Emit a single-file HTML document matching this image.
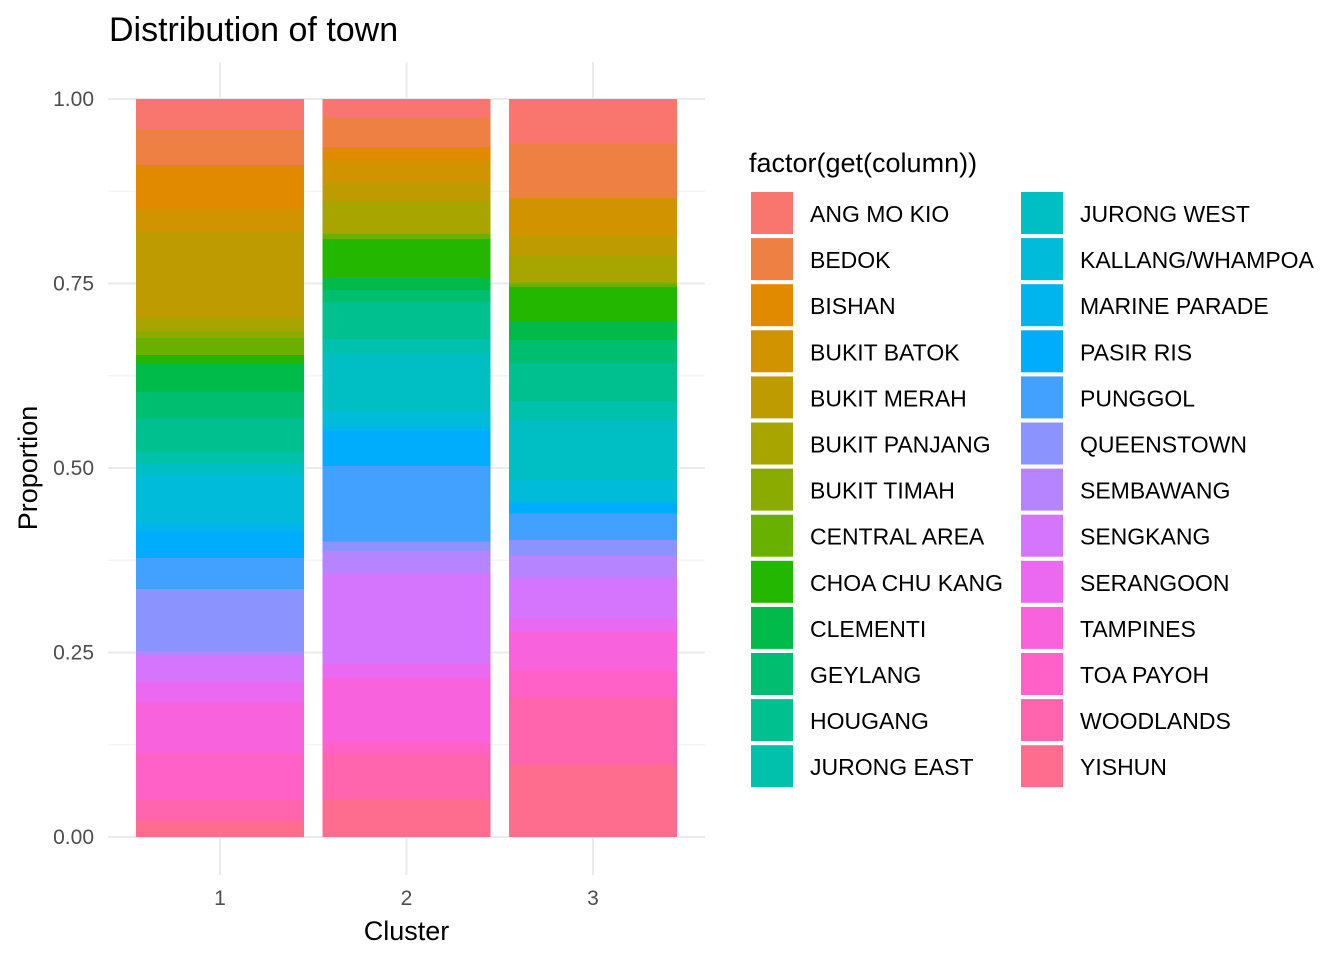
<!DOCTYPE html>
<html><head><meta charset="utf-8"><style>
html,body{margin:0;padding:0;background:#fff;}
svg{display:block;font-family:"Liberation Sans",Arial,sans-serif;}
</style></head><body>
<svg id="chart" width="1344" height="960" viewBox="0 0 1344 960" xmlns="http://www.w3.org/2000/svg">
<text x="109" y="41" font-size="34" fill="#000">Distribution of town</text>
<g id="grid"></g>
<g id="bars" shape-rendering="crispEdges"></g>
<g id="axes"></g>
<text x="406.5" y="940" font-size="27" text-anchor="middle" fill="#000">Cluster</text>
<text transform="translate(37,468) rotate(-90)" font-size="27" text-anchor="middle" fill="#000">Proportion</text>
<text x="749" y="172" font-size="27" fill="#000">factor(get(column))</text>
<g id="legend"></g>
</svg>
<script>
const towns = ["ANG MO KIO","BEDOK","BISHAN","BUKIT BATOK","BUKIT MERAH","BUKIT PANJANG","BUKIT TIMAH","CENTRAL AREA","CHOA CHU KANG","CLEMENTI","GEYLANG","HOUGANG","JURONG EAST","JURONG WEST","KALLANG/WHAMPOA","MARINE PARADE","PASIR RIS","PUNGGOL","QUEENSTOWN","SEMBAWANG","SENGKANG","SERANGOON","TAMPINES","TOA PAYOH","WOODLANDS","YISHUN"];
const clusters = ["1","2","3"];
const cluster1 = [30,36,44,23,85.3,13.7,7,17,8.3,28.7,26,34,11.3,12.4,47,9,26.3,31,62,4.7,25.6,20.7,51.7,46,22,15.3];
const cluster2 = [18,30,14,22,18,32.3,0.5,5.2,39,12,12,37,14.3,57.7,15,5,35,75.7,9.3,22.7,89.6,14.7,64,11.7,46,37.3];
const cluster3 = [44.3,54.7,0.5,37.2,20,26.6,1,3.7,34.7,18.3,23,38,19,59.3,21.7,3,9.7,26.3,16,21.7,41.3,13,38,27.3,67.7,72];
const yTicks = ["0.00","0.25","0.50","0.75","1.00"];
const series = [cluster1, cluster2, cluster3];

const NS = "http://www.w3.org/2000/svg";
function mk(tag, attrs, parent){const e=document.createElementNS(NS,tag);for(const k in attrs)e.setAttribute(k,attrs[k]);parent.appendChild(e);return e;}
function hcl(h){
  const L=65,C=100,Xn=95.047,Yn=100,Zn=108.883;
  const un=4*Xn/(Xn+15*Yn+3*Zn), vn=9*Yn/(Xn+15*Yn+3*Zn);
  const Y=Yn*Math.pow((L+16)/116,3);
  const hr=h*Math.PI/180, u=C*Math.cos(hr), v=C*Math.sin(hr);
  const up=u/(13*L)+un, vp=v/(13*L)+vn;
  const X=Y*9*up/(4*vp), Z=Y*(12-3*up-20*vp)/(4*vp);
  const x=X/100,y=Y/100,z=Z/100;
  let r=3.240479*x-1.537150*y-0.498535*z, g=-0.969256*x+1.875992*y+0.041556*z, b=0.055648*x-0.204043*y+1.057311*z;
  const gm=c=>{c=c<=0.0031308?12.92*c:1.055*Math.pow(c,1/2.4)-0.055;return Math.round(Math.max(0,Math.min(1,c))*255);};
  return "rgb("+gm(r)+","+gm(g)+","+gm(b)+")";
}
const colors = towns.map((t,i)=>hcl(15+360*i/towns.length));

const X0=108,X1=705,Ytop=99,Ybot=837;
const xScale = i => 220 + i*186.5;
const yScale = v => Ybot - v*(Ybot-Ytop);
const barW = 168;

const grid=document.getElementById('grid');
for(let k=0;k<4;k++){const y=yScale(0.125+k*0.25);const e=mk('line',{x1:X0,x2:X1,y1:y,y2:y,stroke:'#f3f3f3','stroke-width':1.2},grid);
}
yTicks.forEach((t,i)=>{const y=yScale(parseFloat(t));const e=mk('line',{x1:X0,x2:X1,y1:y,y2:y,stroke:'#ebebeb','stroke-width':2},grid);
});
clusters.forEach((c,i)=>{const e=mk('line',{x1:xScale(i),x2:xScale(i),y1:62,y2:875,stroke:'#ebebeb','stroke-width':2},grid);
});

const bars=document.getElementById('bars');
series.forEach((vals,ci)=>{
  const tot=vals.reduce((a,b)=>a+b,0);
  let cum=1;
  vals.forEach((v,ti)=>{
    const p=v/tot;
    const y1=yScale(cum), y2=yScale(cum-p);
    const extra = ti<vals.length-1 ? 0.5 : 0;
    const r=mk('rect',{x:xScale(ci)-barW/2,y:y1,width:barW,height:Math.max(0,y2-y1+extra),fill:colors[ti]},bars);
    
    
    cum-=p;
  });
});

const axes=document.getElementById('axes');
yTicks.forEach(t=>{const e=mk('text',{x:94,y:yScale(parseFloat(t))+7,'font-size':21,'text-anchor':'end',fill:'#4d4d4d'},axes);e.textContent=t;
});
clusters.forEach((c,i)=>{const e=mk('text',{x:xScale(i),y:905,'font-size':21,'text-anchor':'middle',fill:'#4d4d4d'},axes);e.textContent=c;
});

const leg=document.getElementById('legend');
towns.forEach((t,i)=>{
  const col=i<13?0:1, row=i%13;
  const kx=col?1021:751, ky=192+row*46.1;
  const r=mk('rect',{x:kx,y:ky,width:42,height:42,fill:colors[i]},leg);
  
  
  const tx=mk('text',{x:kx+59,y:ky+30,'font-size':23,fill:'#000'},leg);
  tx.textContent=t;
  
  
});
</script>
</body></html>
